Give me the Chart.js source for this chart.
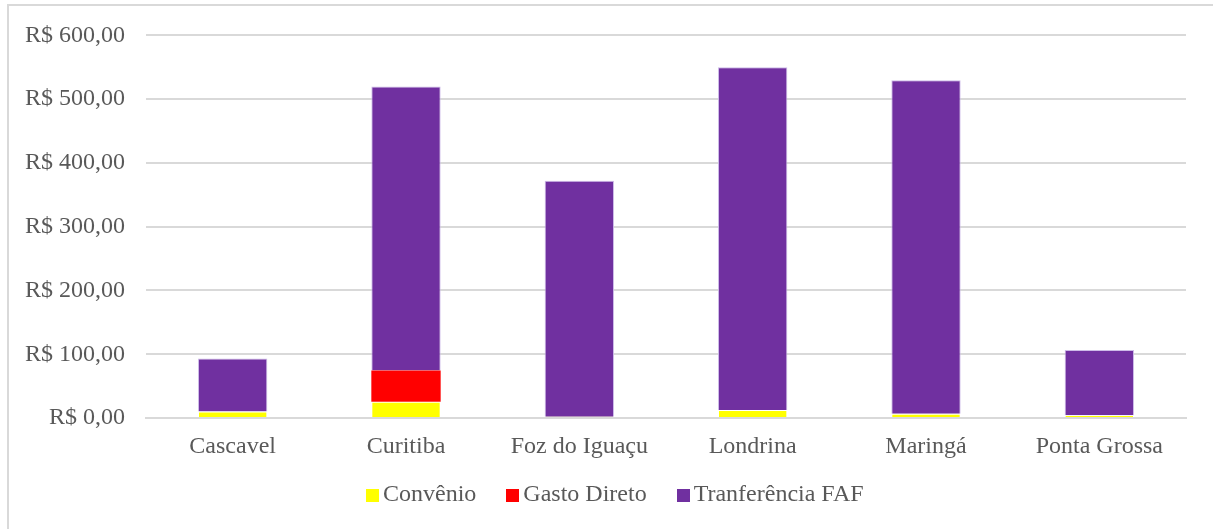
<!DOCTYPE html>
<html>
<head>
<meta charset="utf-8">
<script src="https://cdn.jsdelivr.net/npm/chart.js@4"></script>
<style>
    html, body { margin: 0; padding: 0; background: #fff; overflow: hidden; }
    #frame { position: absolute; left: 7px; top: 4px; width: 1300px; height: 600px; border: 2px solid #d9d9d9; box-sizing: border-box; }
    #wrap { position: absolute; left: 0; top: 0; width: 1213px; height: 529px; }
    #legend { position: absolute; left: 366px; top: 478px; font: 24px 'Liberation Serif'; color: #595959; white-space: nowrap; line-height: 30px; }
    #legend span.item { display: inline-block; margin-right: 30px; }
    #legend span.box { display: inline-block; width: 13px; height: 13px; margin-right: 4px; vertical-align: -1px; }
</style>
</head>
<body>
<div id="frame"></div>
<div id="wrap"><canvas id="chart"></canvas></div>
<div id="legend"></div>
<script>
const municipios = ['Cascavel', 'Curitiba', 'Foz do Iguaçu', 'Londrina', 'Maringá', 'Ponta Grossa'];
const convenio = [10, 25.5, 2, 12.5, 6.5, 4.5];
const gastoDireto = [0, 49, 0, 0, 0, 0];
const transferenciaFAF = [83.5, 445.5, 370, 537.5, 523, 102];
const yTicks = [0, 100, 200, 300, 400, 500, 600];

document.addEventListener('DOMContentLoaded', function() {
    const ctx = document.getElementById('chart').getContext('2d');
    const font = { family: 'Liberation Serif', size: 24 };
    const fmt = v => 'R$ ' + v.toFixed(2).replace('.', ',');

    const chart = new Chart(ctx, {
        type: 'bar',
        data: {
            labels: municipios,
            datasets: [{
                label: 'Convênio',
                data: convenio,
                backgroundColor: '#FFFF00',
                borderColor: 'rgba(255,255,255,0.6)',
                borderWidth: 1
            }, {
                label: 'Gasto Direto',
                data: gastoDireto,
                backgroundColor: '#FF0000',
                borderWidth: 0
            }, {
                label: 'Tranferência FAF',
                data: transferenciaFAF,
                backgroundColor: '#7030A0',
                borderColor: 'rgba(200,180,230,0.9)',
                borderWidth: 1
            }]
        },
        options: {
            responsive: true,
            maintainAspectRatio: false,
            animation: false,
            categoryPercentage: 1,
            barPercentage: 0.4,
            layout: { padding: { top: 34, right: 27, bottom: 54, left: 0 } },
            plugins: {
                tooltip: { enabled: false },
                legend: { display: false }
            },
            scales: {
                x: {
                    stacked: true,
                    grid: { display: false },
                    border: { color: '#d9d9d9', width: 2 },
                    ticks: { font: font, color: '#595959', padding: 6 },
                    afterFit: scale => { scale.height = 57; }
                },
                y: {
                    stacked: true,
                    min: 0,
                    max: 600,
                    afterBuildTicks: scale => { scale.ticks = yTicks.map(v => ({ value: v })); },
                    grid: { color: '#d9d9d9', lineWidth: 2, drawTicks: false },
                    border: { display: false },
                    ticks: { font: font, color: '#595959', padding: 21, callback: v => fmt(v) },
                    afterFit: scale => { scale.width = 146; }
                }
            }
        }
    });

    // legend built from the chart's datasets
    const legend = document.getElementById('legend');
    chart.data.datasets.forEach(ds => {
        const item = document.createElement('span');
        item.className = 'item';
        const box = document.createElement('span');
        box.className = 'box';
        box.style.background = ds.backgroundColor;
        item.appendChild(box);
        item.appendChild(document.createTextNode(ds.label));
        legend.appendChild(item);
    });
});
</script>
</body>
</html>
